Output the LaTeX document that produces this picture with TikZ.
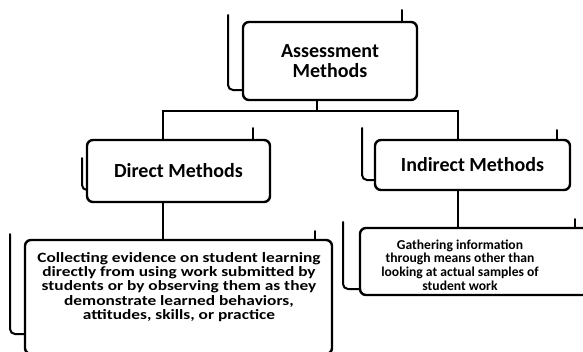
\documentclass[tikz,border=0pt]{standalone}
\usepackage{fontspec}
\setmainfont{Carlito}
\begin{document}
\begin{tikzpicture}[x=1pt,y=-1pt,
  box/.style={draw, line width=2.4pt, rounded corners=6pt, inner sep=0pt},
  conn/.style={line width=2.8pt},
  deco/.style={line width=2pt, line cap=round, rounded corners=5pt},
  bigtxt/.style={font=\bfseries\fontsize{20}{20}\selectfont, align=center},
  midtxt/.style={font=\bfseries\fontsize{20}{20}\selectfont, align=center},
  lefttxt/.style={font=\bfseries\addfontfeature{FakeStretch=1.22}\fontsize{14.2}{14.3}\selectfont, align=center, inner sep=0pt},
  righttxt/.style={font=\bfseries\fontsize{13.6}{13.8}\selectfont, align=center, inner sep=0pt}]
\useasboundingbox (0,0) rectangle (583,351);
% boxes
\node[box, bigtxt, minimum width=174pt, minimum height=78pt] (top) at (330,61) {Assessment\\Methods};
\node[box, midtxt, minimum width=183pt, minimum height=62pt] (direct) at (178.5,171) {Direct Methods};
\node[box, midtxt, minimum width=195pt, minimum height=50pt] (indirect) at (472.5,165) {Indirect Methods};
\node[box, minimum width=307pt, minimum height=114pt] (botL) at (178.5,297) {};
\node[lefttxt] (botLtext) at (179,287) {Collecting evidence on student learning\\directly from using work submitted by\\students or by observing them as they\\demonstrate learned behaviors,\\attitudes, skills, or practice};
\node[box, minimum width=230pt, minimum height=67pt] (botR) at (475,261.5) {};
\node[righttxt] (botRtext) at (460,265) {Gathering information\\through means other than\\looking at actual samples of\\student work};
% connectors
\coordinate (busT) at (317,111);
\coordinate (busL) at (163,111);
\coordinate (busR) at (458,111);
\draw[conn] (busT |- top.south) -- (busT);
\draw[conn, line cap=rect] (busL) -- (busR);
\draw[conn] (busL) -- (busL |- direct.north);
\draw[conn] (busR) -- (busR |- indirect.north);
\draw[conn] (busL |- direct.south) -- (busL |- botL.north);
\draw[conn] (busR |- indirect.south) -- (busR |- botR.north);
% back-layer edges
\draw[deco] (228,15) -- (228,90) -- (243,90);
\draw[deco] (82,158) -- (82,190) -- (87,190);
\draw[deco] (362,128) -- (362,180) -- (375,180);
\draw[deco] (10,234) -- (10,334) -- (25,334);
\draw[deco] (343,222) -- (343,289) -- (360,289);
\draw[deco] (402,10) -- (402,22);
\draw[deco] (253,128) -- (253,140);
\draw[deco] (557,130) -- (557,140);
\draw[deco] (315,231) -- (315,240);
\draw[deco] (575,219) -- (575,228);
\end{tikzpicture}
\end{document}
